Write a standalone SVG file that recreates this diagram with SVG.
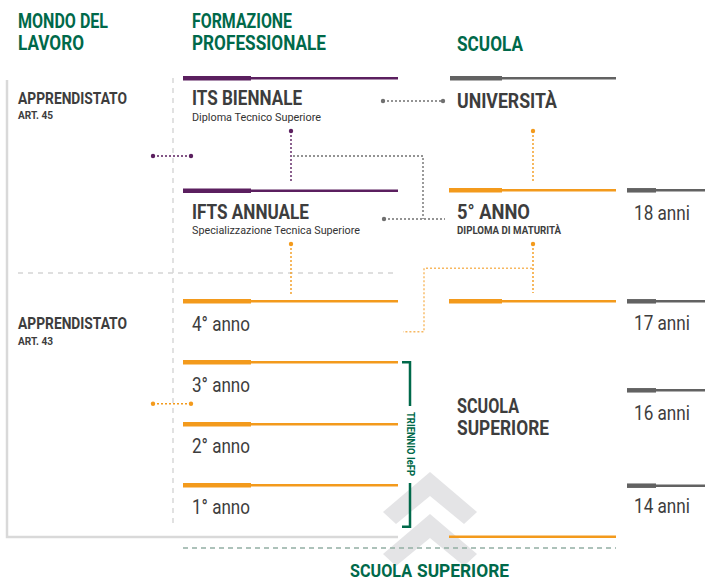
<svg xmlns="http://www.w3.org/2000/svg" width="705" height="582" viewBox="0 0 705 582">
<style>
text{font-family:"Liberation Sans Narrow","Roboto","Liberation Sans",sans-serif}
.hg{fill:#00694a;font-size:19.5px;font-weight:700}
.t{fill:#3d3d3d;font-weight:700}
.big{font-size:19.5px}
.sub{fill:#333333;font-size:11px;font-weight:400}
.reg{fill:#3d3d3d;font-size:20px;font-weight:400}
.thin{stroke-width:2.6;fill:none}
.thick{stroke-width:4.5;fill:none}
.pu{stroke:#5b1f5f}
.or{stroke:#f39a1c}
.gr{stroke:#626262}
.dotg{stroke:#707070;stroke-width:1.4;stroke-dasharray:2 2;fill:none}
.dotp{stroke:#5b1f5f;stroke-width:1.4;stroke-dasharray:2 2;fill:none}
.doto{stroke:#f39a1c;stroke-width:1.4;stroke-dasharray:2 2;fill:none}
.dash{stroke:#d5d5d5;stroke-width:1.4;stroke-dasharray:5 5;fill:none}
</style>
<rect width="705" height="582" fill="#ffffff"/>

<g id="chevrons" fill="#e4e4e6">
<polygon points="430,472 477,512 464,524 430,496 396,524 383,512"/>
<polygon points="430,514 477,554 464,566 430,538 396,566 383,554"/>
</g>

<g id="frame">
<path d="M7,80 V537 H398" stroke="#d9d9d9" stroke-width="2.5" fill="none"/>
<line x1="173" y1="78" x2="173" y2="527" class="dash"/>
<line x1="18" y1="273" x2="398" y2="273" class="dash"/>
<line x1="183" y1="548" x2="616" y2="548" stroke="#93aea4" stroke-width="1.5" stroke-dasharray="5 4"/>
</g>

<g id="headers">
<text class="hg" x="18" y="28" textLength="90" lengthAdjust="spacingAndGlyphs">MONDO DEL</text>
<text class="hg" x="18" y="50" textLength="66" lengthAdjust="spacingAndGlyphs">LAVORO</text>
<text class="hg" x="192" y="28" textLength="100" lengthAdjust="spacingAndGlyphs">FORMAZIONE</text>
<text class="hg" x="192" y="50" textLength="134" lengthAdjust="spacingAndGlyphs">PROFESSIONALE</text>
<text class="hg" x="457" y="51" textLength="66" lengthAdjust="spacingAndGlyphs">SCUOLA</text>
</g>

<g id="apprendistato45">
<text class="t" x="18" y="104" font-size="16.5" textLength="109" lengthAdjust="spacingAndGlyphs">APPRENDISTATO</text>
<text class="t" x="18" y="119" font-size="10" textLength="35" lengthAdjust="spacingAndGlyphs">ART. 45</text>
</g>

<g id="apprendistato43">
<text class="t" x="18" y="329" font-size="16.5" textLength="109" lengthAdjust="spacingAndGlyphs">APPRENDISTATO</text>
<text class="t" x="18" y="345" font-size="10" textLength="35" lengthAdjust="spacingAndGlyphs">ART. 43</text>
</g>

<g id="its">
<line x1="183" y1="78.3" x2="398" y2="78.3" class="thin pu"/>
<line x1="183" y1="78.3" x2="251" y2="78.3" class="thick pu"/>
<text class="t big" x="192" y="105" textLength="110" lengthAdjust="spacingAndGlyphs">ITS BIENNALE</text>
<text class="sub" x="192" y="121" textLength="129" lengthAdjust="spacingAndGlyphs">Diploma Tecnico Superiore</text>
</g>

<g id="universita">
<line x1="450" y1="78.3" x2="616" y2="78.3" class="thin gr"/>
<line x1="450" y1="78.3" x2="502" y2="78.3" class="thick gr"/>
<text class="t" font-size="20" x="457" y="108" textLength="100" lengthAdjust="spacingAndGlyphs">UNIVERSITÀ</text>
</g>

<g id="ifts">
<line x1="183" y1="190.7" x2="398" y2="190.7" class="thin pu"/>
<line x1="183" y1="190.7" x2="251" y2="190.7" class="thick pu"/>
<text class="t big" x="192" y="219" textLength="117" lengthAdjust="spacingAndGlyphs">IFTS ANNUALE</text>
<text class="sub" x="192" y="234" textLength="168" lengthAdjust="spacingAndGlyphs">Specializzazione Tecnica Superiore</text>
</g>

<g id="quinto">
<line x1="449" y1="190.3" x2="616" y2="190.3" class="thin or"/>
<line x1="449" y1="190.3" x2="502" y2="190.3" class="thick or"/>
<text class="t" font-size="20" x="457" y="219" textLength="73" lengthAdjust="spacingAndGlyphs">5° ANNO</text>
<text class="t" font-size="10.5" x="457" y="234" textLength="104" lengthAdjust="spacingAndGlyphs">DIPLOMA DI MATURITÀ</text>
</g>

<g id="quarto-fp">
<line x1="183" y1="301.3" x2="398" y2="301.3" class="thin or"/>
<line x1="183" y1="301.3" x2="251" y2="301.3" class="thick or"/>
<text class="reg" x="192" y="331" textLength="58" lengthAdjust="spacingAndGlyphs">4° anno</text>
</g>

<g id="quarto-scuola">
<line x1="449" y1="301.3" x2="616" y2="301.3" class="thin or"/>
<line x1="449" y1="301.3" x2="502" y2="301.3" class="thick or"/>
</g>

<g id="terzo">
<line x1="183" y1="362.3" x2="398" y2="362.3" class="thin or"/>
<line x1="183" y1="362.3" x2="251" y2="362.3" class="thick or"/>
<text class="reg" x="192" y="392" textLength="58" lengthAdjust="spacingAndGlyphs">3° anno</text>
</g>

<g id="secondo">
<line x1="183" y1="424.3" x2="398" y2="424.3" class="thin or"/>
<line x1="183" y1="424.3" x2="251" y2="424.3" class="thick or"/>
<text class="reg" x="192" y="453" textLength="58" lengthAdjust="spacingAndGlyphs">2° anno</text>
</g>

<g id="primo">
<line x1="183" y1="485.3" x2="398" y2="485.3" class="thin or"/>
<line x1="183" y1="485.3" x2="251" y2="485.3" class="thick or"/>
<text class="reg" x="192" y="514" textLength="58" lengthAdjust="spacingAndGlyphs">1° anno</text>
</g>

<g id="scuola-superiore">
<text class="t" font-size="19.5" x="457" y="413" textLength="62" lengthAdjust="spacingAndGlyphs">SCUOLA</text>
<text class="t" font-size="19.5" x="457" y="435" textLength="92" lengthAdjust="spacingAndGlyphs">SUPERIORE</text>
<line x1="449" y1="536.7" x2="616" y2="536.7" class="thin or"/>
</g>

<g id="eta">
<line x1="627" y1="190.3" x2="705" y2="190.3" class="thin gr"/>
<line x1="627" y1="190.3" x2="656" y2="190.3" class="thick gr"/>
<text class="reg" x="634" y="219.5" textLength="56" lengthAdjust="spacingAndGlyphs">18 anni</text>
<line x1="627" y1="301.3" x2="705" y2="301.3" class="thin gr"/>
<line x1="627" y1="301.3" x2="656" y2="301.3" class="thick gr"/>
<text class="reg" x="634" y="330" textLength="56" lengthAdjust="spacingAndGlyphs">17 anni</text>
<line x1="627" y1="390.3" x2="705" y2="390.3" class="thin gr"/>
<line x1="627" y1="390.3" x2="656" y2="390.3" class="thick gr"/>
<text class="reg" x="634" y="420" textLength="56" lengthAdjust="spacingAndGlyphs">16 anni</text>
<line x1="627" y1="485.7" x2="705" y2="485.7" class="thin gr"/>
<line x1="627" y1="485.7" x2="656" y2="485.7" class="thick gr"/>
<text class="reg" x="634" y="513" textLength="56" lengthAdjust="spacingAndGlyphs">14 anni</text>
</g>

<g id="triennio">
<path d="M402,362.3 H410 V406 M410,483 V526.7 H402" stroke="#00694a" stroke-width="2.5" fill="none"/>
<text transform="translate(406.5,412) rotate(90)" x="0" y="0" fill="#00694a" font-size="10.5" font-weight="700" textLength="64" lengthAdjust="spacingAndGlyphs">TRIENNIO IeFP</text>
</g>

<g id="footer">
<text x="350" y="577" fill="#00694a" font-size="18.5" font-weight="700" textLength="62" lengthAdjust="spacingAndGlyphs">SCUOLA</text>
<text x="417" y="577" fill="#00694a" font-size="18.5" font-weight="700" textLength="92" lengthAdjust="spacingAndGlyphs">SUPERIORE</text>
</g>

<g id="connectors">
<line x1="383" y1="101" x2="443" y2="101" class="dotg"/>
<circle cx="383" cy="101" r="2.2" fill="#707070"/>
<circle cx="443" cy="101" r="2.2" fill="#707070"/>
<line x1="291" y1="131" x2="291" y2="183" class="dotp"/>
<circle cx="291" cy="131" r="2.2" fill="#5b1f5f"/>
<path d="M293,156 H423 V219" class="dotg"/>
<line x1="384" y1="219" x2="445" y2="219" class="dotg"/>
<circle cx="384" cy="219" r="2.2" fill="#707070"/>
<line x1="153" y1="156" x2="191" y2="156" class="dotp"/>
<circle cx="153" cy="156" r="2.2" fill="#5b1f5f"/>
<circle cx="191" cy="156" r="2.2" fill="#5b1f5f"/>
<line x1="533" y1="131" x2="533" y2="183" class="doto"/>
<circle cx="533" cy="131" r="2.2" fill="#f39a1c"/>
<line x1="291" y1="244" x2="291" y2="294" class="doto"/>
<circle cx="291" cy="244" r="2.2" fill="#f39a1c"/>
<line x1="533" y1="244" x2="533" y2="293" class="doto"/>
<circle cx="533" cy="244" r="2.2" fill="#f39a1c"/>
<path d="M532,268.3 H424 V331.7 H403" class="doto" opacity="0.7"/>
<line x1="153" y1="403.7" x2="191" y2="403.7" class="doto"/>
<circle cx="153" cy="403.7" r="2.2" fill="#f39a1c"/>
<circle cx="191" cy="403.7" r="2.2" fill="#f39a1c"/>
</g>
</svg>
